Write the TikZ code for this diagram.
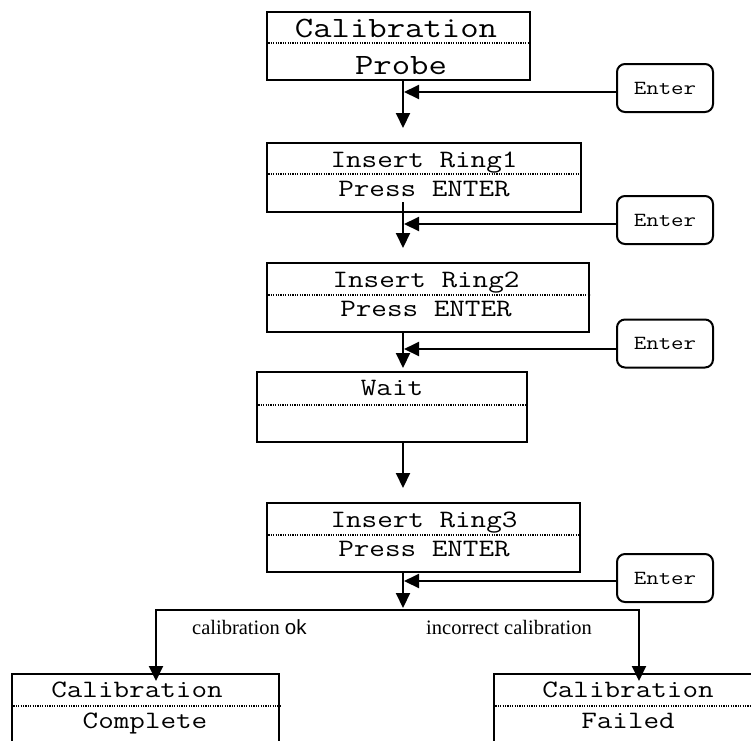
\documentclass[tikz,border=0pt]{standalone}
\usepackage{fontspec}
\setmainfont{Liberation Serif}
\newfontfamily\lsans{Liberation Sans}
\newcommand\sx[1]{\scalebox{1.21}[1]{#1}}
\usetikzlibrary{arrows.meta}
\begin{document}
\begin{tikzpicture}[x=1pt,y=-1pt,
  lcdbox/.style={draw, line width=2pt, rectangle, inner sep=0pt},
  enterbox/.style={draw, line width=2pt, rectangle, rounded corners=8pt, inner sep=0pt,
    minimum width=96pt, minimum height=48pt, font=\ttfamily\fontsize{20}{22}\selectfont},
  sep/.style={line width=1.2pt, dash pattern=on 1.2pt off 1.2pt},
  big/.style={anchor=base, inner sep=0pt, font=\ttfamily\fontsize{29.5}{32}\selectfont},
  mid/.style={anchor=base, inner sep=0pt, font=\ttfamily\fontsize{25}{28}\selectfont},
  lbl/.style={anchor=base west, inner sep=0pt, font=\fontsize{20.5}{22}\selectfont},
  arr/.style={line width=2pt, -{Triangle[length=15pt,width=14pt]}},
  plain/.style={line width=2pt}]
\useasboundingbox (0,0) rectangle (751,740);
\clip (0,0) rectangle (751,740);

% boxes
\node[lcdbox, minimum width=263pt, minimum height=68pt] (b1) at (398.5,46) {};
\node[lcdbox, minimum width=314pt, minimum height=69pt] (b2) at (424,177.5) {};
\node[lcdbox, minimum width=322pt, minimum height=69pt] (b3) at (428,297.5) {};
\node[lcdbox, minimum width=270pt, minimum height=70pt] (b4) at (392,407) {};
\node[lcdbox, minimum width=313pt, minimum height=69pt] (b5) at (423.5,537.5) {};
\node[lcdbox, minimum width=267pt, minimum height=68pt] (b6) at (145.5,708) {};
\node[lcdbox, minimum width=267pt, minimum height=68pt] (b7) at (627.5,708) {};

% dotted separators
\draw[sep] (b1.west |- 0,43) -- (b1.east |- 0,43);
\draw[sep] (b2.west |- 0,174) -- (b2.east |- 0,174);
\draw[sep] (b3.west |- 0,295) -- (b3.east |- 0,295);
\draw[sep] (b4.west |- 0,405) -- (b4.east |- 0,405);
\draw[sep] (b5.west |- 0,535) -- (b5.east |- 0,535);
\draw[sep] (b6.west |- 0,706) -- (b6.east |- 0,706);
\draw[sep] (b7.west |- 0,706) -- (b7.east |- 0,706);

% texts
\node[big] (b1a) at (396,37) {\sx{Calibration}};
\node[big] (b1b) at (401,74) {\sx{Probe}};
\node[mid] (b2a) at (424,167) {\sx{Insert Ring1}};
\node[mid] (b2b) at (424,196) {\sx{Press ENTER}};
\node[mid] (b3a) at (426,287) {\sx{Insert Ring2}};
\node[mid] (b3b) at (426,316) {\sx{Press ENTER}};
\node[mid] (b4a) at (392,395) {\sx{Wait}};
\node[mid] (b5a) at (424,527) {\sx{Insert Ring3}};
\node[mid] (b5b) at (424,556) {\sx{Press ENTER}};
\node[mid] (b6a) at (137,697) {\sx{Calibration}};
\node[mid] (b6b) at (145,728) {\sx{Complete}};
\node[mid] (b7a) at (628,697) {\sx{Calibration}};
\node[mid] (b7b) at (628,728) {\sx{Failed}};

% enter buttons
\node[enterbox] (e1) at (665,88) {\sx{Enter}};
\node[enterbox] (e2) at (665,220) {\sx{Enter}};
\node[enterbox] (e3) at (665,343.5) {\sx{Enter}};
\node[enterbox] (e4) at (665,578) {\sx{Enter}};

% coordinates
\coordinate (t1) at (403,128);
\coordinate (s2) at (403,202);
\coordinate (t2) at (403,248);
\coordinate (t3) at (403,368);
\coordinate (t4) at (403,488);
\coordinate (t5) at (403,608);
\coordinate (h1) at (404,92);
\coordinate (h2) at (404,224);
\coordinate (h3) at (404,349);
\coordinate (h4) at (404,581);
\coordinate (j1) at (156,610);
\coordinate (j2) at (639,610);
\coordinate (d1) at (156,681);
\coordinate (d2) at (639,681);

% main flow
\draw[arr] (b1.south -| t1) -- (t1);
\draw[arr] (s2) -- (t2);
\draw[arr] (b3.south -| t3) -- (t3);
\draw[arr] (b4.south -| t4) -- (t4);
\draw[arr] (b5.south -| t5) -- (t5);

% enter arrows
\draw[arr] (e1.west |- h1) -- (h1);
\draw[arr] (e2.west |- h2) -- (h2);
\draw[arr] (e3.west |- h3) -- (h3);
\draw[arr] (e4.west |- h4) -- (h4);

% branch
\draw[plain, line cap=rect] (j1) -- (j2);
\draw[arr] (j1) -- (d1);
\draw[arr] (j2) -- (d2);

% labels
\node[lbl] (l1) at (192,634) {calibration {\lsans ok}};
\node[lbl] (l2) at (426,634) {incorrect calibration};
\end{tikzpicture}
\end{document}
